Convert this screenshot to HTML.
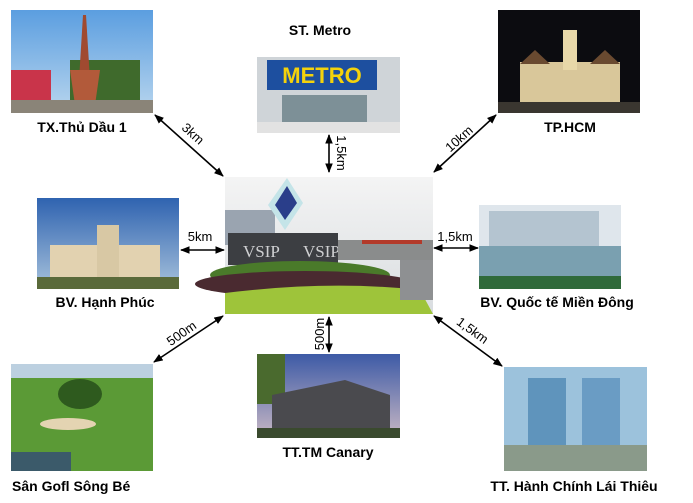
<!DOCTYPE html>
<html><head><meta charset="utf-8"><style>
html,body{margin:0;padding:0;background:#fff;}
body{width:693px;height:503px;overflow:hidden;position:relative;font-family:"Liberation Sans",sans-serif;}
svg{position:absolute;left:0;top:0;}
</style></head><body>
<svg width="693" height="503" viewBox="0 0 693 503" xmlns="http://www.w3.org/2000/svg">
<defs>
<marker id="a" viewBox="0 0 10 10" refX="9" refY="5" markerWidth="6" markerHeight="6" orient="auto-start-reverse"><path d="M0,1 L10,5 L0,9 z" fill="#000"/></marker>
<linearGradient id="sky" x1="0" y1="0" x2="0" y2="1"><stop offset="0" stop-color="#5b9ee0"/><stop offset="1" stop-color="#b9d6ee"/></linearGradient>
<linearGradient id="sky2" x1="0" y1="0" x2="0" y2="1"><stop offset="0" stop-color="#2f63b0"/><stop offset="1" stop-color="#a7c2dc"/></linearGradient>
<linearGradient id="cloud" x1="0" y1="0" x2="0" y2="1"><stop offset="0" stop-color="#f4f4f4"/><stop offset="1" stop-color="#d9dde0"/></linearGradient>
<linearGradient id="cnr" x1="0" y1="0" x2="0" y2="1"><stop offset="0" stop-color="#3d5aa6"/><stop offset="1" stop-color="#c9b8c4"/></linearGradient>
</defs>

<rect x="11" y="10" width="142" height="103" fill="url(#sky)"/>
<rect x="11" y="70" width="40" height="32" fill="#c9344a"/>
<rect x="70" y="60" width="70" height="40" fill="#3f6a2c"/>
<polygon points="83,15 86,15 90,80 79,80" fill="#a04a30"/>
<polygon points="70,70 100,70 95,105 75,105" fill="#b25a3a"/>
<rect x="11" y="100" width="142" height="13" fill="#8a8478"/>
<text x="82" y="132" font-size="14" font-weight="bold" text-anchor="middle">TX.Thủ Dầu 1</text>

<text x="320" y="35" font-size="14" font-weight="bold" text-anchor="middle">ST. Metro</text>
<rect x="257" y="57" width="143" height="76" fill="#cfd4d8"/>
<rect x="267" y="60" width="110" height="30" fill="#1d4f9f"/>
<text x="322" y="83" font-size="22" font-weight="bold" fill="#f4d20c" text-anchor="middle">METRO</text>
<rect x="282" y="95" width="85" height="28" fill="#7d9097"/>
<rect x="257" y="122" width="143" height="11" fill="#e2e2e2"/>

<rect x="498" y="10" width="142" height="103" fill="#0c0c10"/>
<rect x="520" y="62" width="100" height="45" fill="#d9c79a"/>
<rect x="563" y="30" width="14" height="40" fill="#e8d8a8"/>
<polygon points="520,64 535,50 550,64" fill="#6a4a30"/>
<polygon points="590,64 605,50 620,64" fill="#6a4a30"/>
<rect x="498" y="102" width="142" height="11" fill="#3a3630"/>
<text x="570" y="132" font-size="14" font-weight="bold" text-anchor="middle">TP.HCM</text>

<rect x="225" y="177" width="208" height="137" fill="url(#cloud)"/>
<rect x="225" y="210" width="50" height="35" fill="#9aa4b0"/>
<polygon points="287,178 303,203 285,230 268,205" fill="#c4e4e8"/>
<polygon points="287,186 297,203 285,220 275,205" fill="#2a3e8a"/>
<rect x="228" y="233" width="110" height="32" fill="#3c3e42"/>
<text x="243" y="257" font-size="17" fill="#cfd0d2" font-family="Liberation Serif,serif">VSIP</text>
<text x="303" y="257" font-size="17" fill="#cfd0d2" font-family="Liberation Serif,serif">VSIP</text>
<rect x="338" y="240" width="95" height="20" fill="#8a8c8c"/>
<rect x="362" y="240" width="60" height="4" fill="#b33a2a"/>
<ellipse cx="300" cy="275" rx="90" ry="14" fill="#4a7a2a"/>
<ellipse cx="305" cy="284" rx="110" ry="13" fill="#4a2a30"/>
<path d="M225,293 Q330,280 420,290 L433,314 L225,314 z" fill="#9ec43a"/>
<rect x="400" y="260" width="33" height="40" fill="#8e9092"/>

<rect x="37" y="198" width="142" height="91" fill="url(#sky2)"/>
<rect x="50" y="245" width="110" height="32" fill="#e2d2b0"/>
<rect x="97" y="225" width="22" height="52" fill="#d8c8a4"/>
<rect x="37" y="277" width="142" height="12" fill="#5a6a3a"/>
<text x="105" y="307" font-size="14" font-weight="bold" text-anchor="middle">BV. Hạnh Phúc</text>

<rect x="479" y="205" width="142" height="84" fill="#dfe6ec"/>
<rect x="489" y="211" width="110" height="35" fill="#b4c4d0"/>
<rect x="479" y="246" width="142" height="30" fill="#7aa0b0"/>
<rect x="479" y="276" width="142" height="13" fill="#2f6a3a"/>
<text x="557" y="307" font-size="14" font-weight="bold" text-anchor="middle">BV. Quốc tế Miền Đông</text>

<rect x="11" y="364" width="142" height="107" fill="#5b9a36"/>
<rect x="11" y="364" width="142" height="14" fill="#bcd0e0"/>
<ellipse cx="80" cy="394" rx="22" ry="15" fill="#2e5a1e"/>
<ellipse cx="68" cy="424" rx="28" ry="6" fill="#e4d4b2"/>
<rect x="11" y="452" width="60" height="19" fill="#3b5a6a"/>
<text x="12" y="491" font-size="14" font-weight="bold">Sân Gofl Sông Bé</text>

<rect x="257" y="354" width="143" height="84" fill="url(#cnr)"/>
<rect x="257" y="354" width="28" height="50" fill="#4a6a2e"/>
<polygon points="272,395 345,380 390,395 390,428 272,428" fill="#4a4a4e"/>
<rect x="257" y="428" width="143" height="10" fill="#3a4a2e"/>
<text x="328" y="457" font-size="14" font-weight="bold" text-anchor="middle">TT.TM Canary</text>

<rect x="504" y="367" width="143" height="104" fill="#9cc2dc"/>
<rect x="528" y="378" width="38" height="70" fill="#5f94bc"/>
<rect x="582" y="378" width="38" height="70" fill="#6a9cc4"/>
<rect x="504" y="445" width="143" height="26" fill="#8a9a8a"/>
<text x="574" y="491" font-size="14" font-weight="bold" text-anchor="middle">TT. Hành Chính Lái Thiêu</text>

<g stroke="#000" stroke-width="1.6" fill="none">
<line x1="155" y1="115" x2="223" y2="176" marker-start="url(#a)" marker-end="url(#a)"/>
<line x1="329" y1="135" x2="329" y2="172" marker-start="url(#a)" marker-end="url(#a)"/>
<line x1="496" y1="115" x2="434" y2="172" marker-start="url(#a)" marker-end="url(#a)"/>
<line x1="181" y1="250" x2="224" y2="250" marker-start="url(#a)" marker-end="url(#a)"/>
<line x1="434" y1="248" x2="478" y2="248" marker-start="url(#a)" marker-end="url(#a)"/>
<line x1="223" y1="316" x2="154" y2="362" marker-start="url(#a)" marker-end="url(#a)"/>
<line x1="329" y1="317" x2="329" y2="352" marker-start="url(#a)" marker-end="url(#a)"/>
<line x1="434" y1="316" x2="502" y2="366" marker-start="url(#a)" marker-end="url(#a)"/>
</g>
<g font-size="13">
<text transform="translate(190,137) rotate(42)" text-anchor="middle">3km</text>
<text transform="translate(337,153) rotate(90)" text-anchor="middle">1,5km</text>
<text transform="translate(462,142) rotate(-42)" text-anchor="middle">10km</text>
<text x="200" y="241" text-anchor="middle">5km</text>
<text x="455" y="241" text-anchor="middle">1,5km</text>
<text transform="translate(184,337) rotate(-35)" text-anchor="middle">500m</text>
<text transform="translate(324,334) rotate(-90)" text-anchor="middle">500m</text>
<text transform="translate(470,334) rotate(36)" text-anchor="middle">1,5km</text>
</g>
</svg>
</body></html>
